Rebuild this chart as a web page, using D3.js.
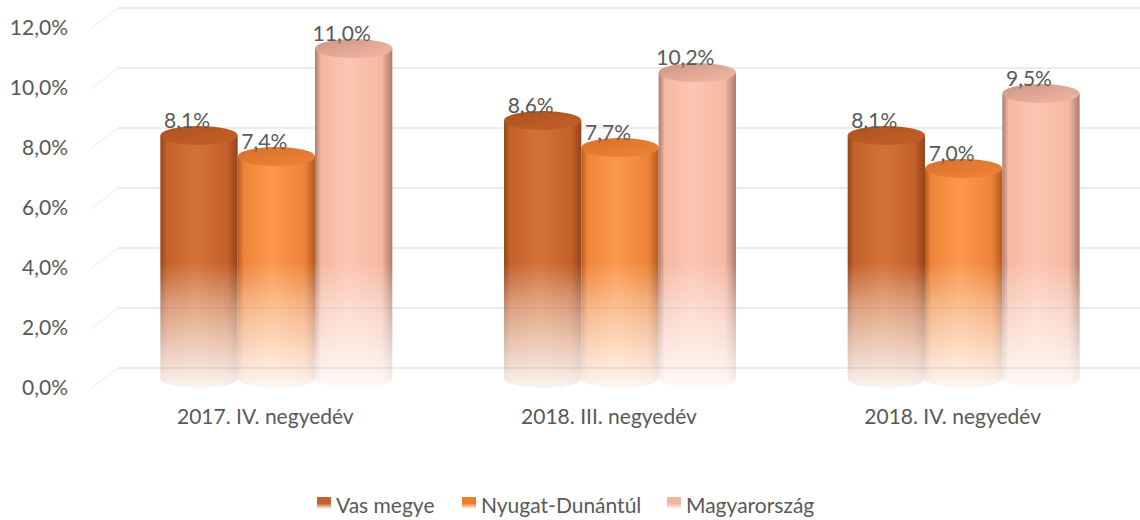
<!DOCTYPE html>
<html>
<head>
<meta charset="utf-8">
<script src="https://cdn.jsdelivr.net/npm/d3@7"></script>
<style>
  body { margin: 0; background: #fff; }
  text { font-family: Lato, "Open Sans", sans-serif; fill: #595959; font-size: 21px; }
</style>
</head>
<body>
<div id="chart"></div>
<script>
const categories = ["2017. IV. negyedév", "2018. III. negyedév", "2018. IV. negyedév"];
const seriesNames = ["Vas megye", "Nyugat-Dunántúl", "Magyarország"];
const vasMegye = [8.1, 8.6, 8.1];
const nyugatDunantul = [7.4, 7.7, 7.0];
const magyarorszag = [11.0, 10.2, 9.5];
const yTicks = [0, 2, 4, 6, 8, 10, 12];

const values = [vasMegye, nyugatDunantul, magyarorszag];
const colors = [
  { base: "#c5602a", light: "#d2733a", dark: "#93441a", top: "#ad531e", legend: "#c4622d" },
  { base: "#ef8438", light: "#fb984e", dark: "#b35a1f", top: "#d7702a", legend: "#ed7d31" },
  { base: "#f5b8a2", light: "#fcc6b2", dark: "#ad7b6c", top: "#c99686", legend: "#f4b5a0" }
];

const width = 1140, height = 520;
const depthX = 28, depthY = 21;   // back wall offset vs. front plane
const ry = 9.5;

const svg = d3.select("#chart").append("svg")
  .attr("width", width).attr("height", height);
const defs = svg.append("defs");

// back wall scale
const y = d3.scaleLinear().domain([0, 12]).range([368, 8]);
const yMid = v => y(v) + depthY / 2;

const x0 = d3.scaleBand().domain(categories)
  .range([126, 1114]).paddingInner(0.325).paddingOuter(0.1);
const x1 = d3.scaleBand().domain(seriesNames)
  .range([0, x0.bandwidth()]).padding(0);

// gridlines on back wall + floor diagonals
const grid = svg.append("g");
yTicks.forEach(t => {
  grid.append("line")
    .attr("x1", 118).attr("x2", width)
    .attr("y1", y(t)).attr("y2", y(t))
    .attr("stroke", "#e6e6e6").attr("stroke-width", 1.5);
  grid.append("line")
    .attr("x1", 118 - depthX).attr("x2", 118)
    .attr("y1", y(t) + depthY).attr("y2", y(t))
    .attr("stroke", "#ececec").attr("stroke-width", 1);
});

// y axis labels (front plane)
svg.append("g").selectAll("text")
  .data(yTicks).join("text")
  .attr("x", 68).attr("y", d => y(d) + depthY + 1)
  .attr("text-anchor", "end").attr("dominant-baseline", "middle")
  .text(d => d.toFixed(1).replace(".", ",") + "%");

// gradients
colors.forEach((c, i) => {
  const g = defs.append("linearGradient").attr("id", "body" + i)
    .attr("x1", 0).attr("x2", 1).attr("y1", 0).attr("y2", 0);
  g.append("stop").attr("offset", 0).attr("stop-color", c.dark);
  g.append("stop").attr("offset", 0.08).attr("stop-color", c.base);
  g.append("stop").attr("offset", 0.45).attr("stop-color", c.light);
  g.append("stop").attr("offset", 0.86).attr("stop-color", c.base);
  g.append("stop").attr("offset", 1).attr("stop-color", c.dark);
  const tg = defs.append("linearGradient").attr("id", "top" + i)
    .attr("x1", 0).attr("x2", 1).attr("y1", 0).attr("y2", 1);
  tg.append("stop").attr("offset", 0).attr("stop-color", c.top);
  tg.append("stop").attr("offset", 1).attr("stop-color", c.base);
  const lg = defs.append("linearGradient").attr("id", "leg" + i)
    .attr("x1", 0).attr("x2", 0).attr("y1", 0).attr("y2", 1);
  lg.append("stop").attr("offset", 0.55).attr("stop-color", c.legend);
  lg.append("stop").attr("offset", 1).attr("stop-color", "#fff");
});

const fade = defs.append("linearGradient").attr("id", "fade")
  .attr("gradientUnits", "userSpaceOnUse")
  .attr("x1", 0).attr("x2", 0).attr("y1", 262).attr("y2", 392);
fade.append("stop").attr("offset", 0).attr("stop-color", "#fff").attr("stop-opacity", 1);
fade.append("stop").attr("offset", 0.35).attr("stop-color", "#fff").attr("stop-opacity", 0.6);
fade.append("stop").attr("offset", 1).attr("stop-color", "#fff").attr("stop-opacity", 0.05);
defs.append("mask").attr("id", "fadeMask")
  .attr("maskUnits", "userSpaceOnUse")
  .attr("x", 0).attr("y", 0).attr("width", width).attr("height", height)
  .append("rect").attr("x", 0).attr("y", 0).attr("width", width).attr("height", height)
  .attr("fill", "url(#fade)");

// cylinders
const bars = [];
categories.forEach((cat, ci) => {
  seriesNames.forEach((s, si) => {
    bars.push({ cat, s, si, v: values[si][ci] });
  });
});

const cyl = svg.append("g").attr("mask", "url(#fadeMask)");
bars.forEach(d => {
  const rx = x1.bandwidth() / 2;
  const cx = x0(d.cat) + x1(d.s) + rx;
  const yt = yMid(d.v), yb = yMid(0);
  const gg = cyl.append("g");
  gg.append("path")
    .attr("d", `M${cx - rx},${yt} L${cx - rx},${yb} A${rx},${ry} 0 0 0 ${cx + rx},${yb} L${cx + rx},${yt} Z`)
    .attr("fill", `url(#body${d.si})`);
  gg.append("ellipse")
    .attr("cx", cx).attr("cy", yt).attr("rx", rx).attr("ry", ry)
    .attr("fill", `url(#top${d.si})`);
});

// value labels
svg.append("g").selectAll("text")
  .data(bars).join("text")
  .attr("x", d => x0(d.cat) + x1(d.s) + x1.bandwidth() / 2 - 12)
  .attr("y", d => yMid(d.v) - ry + 2)
  .attr("text-anchor", "middle")
  .text(d => d.v.toFixed(1).replace(".", ",") + "%");

// category labels
svg.append("g").selectAll("text")
  .data(categories).join("text")
  .attr("x", d => x0(d) + x0.bandwidth() / 2 - 11)
  .attr("y", 424)
  .attr("text-anchor", "middle")
  .text(d => d);

// legend
const legendX = [317, 462, 667];
const leg = svg.append("g");
seriesNames.forEach((s, i) => {
  leg.append("rect").attr("x", legendX[i]).attr("y", 497)
    .attr("width", 14).attr("height", 12).attr("fill", `url(#leg${i})`);
  leg.append("text").attr("x", legendX[i] + 19).attr("y", 513)
    .text(s);
});
</script>
</body>
</html>
